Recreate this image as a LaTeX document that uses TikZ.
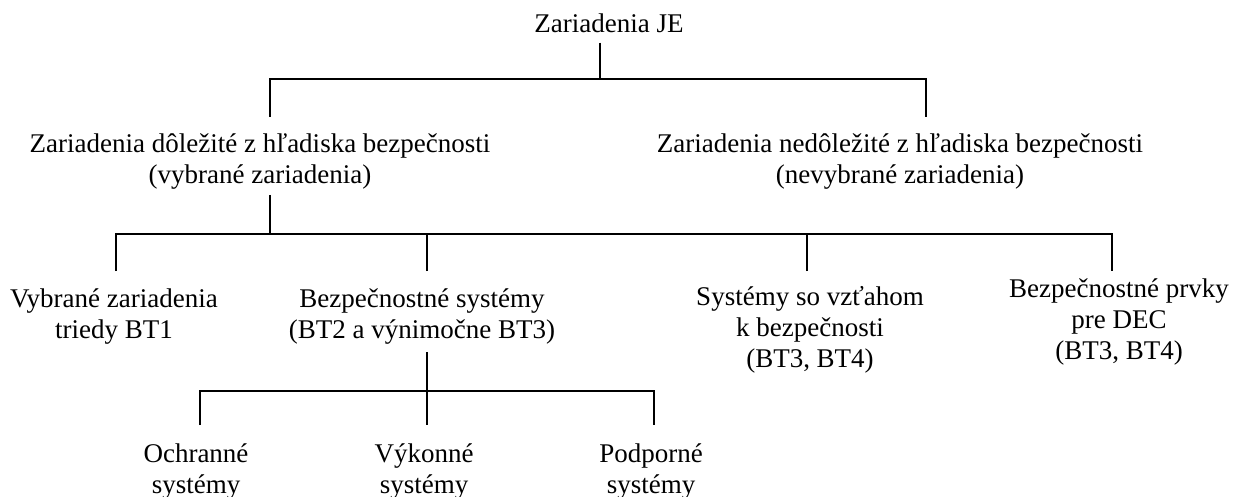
\documentclass[tikz,border=0pt]{standalone}
\usepackage{fontspec}
\setmainfont{Liberation Serif}
\newcommand\fstrut{\rule{0pt}{20pt}}
\begin{document}
\begin{tikzpicture}[x=1pt,y=-1pt,
  lbl/.style={anchor=north,inner sep=0pt,align=center,font=\fontsize{27}{31}\selectfont},
  conn/.style={line width=2pt}]
\useasboundingbox (0,0) rectangle (1242,497);
\node[lbl] (root) at (609,12) {\fstrut Zariadenia JE};
\node[lbl] (imp) at (260,132) {\fstrut Zariadenia dôležité z hľadiska bezpečnosti\\(vybrané zariadenia)};
\node[lbl] (nimp) at (900,132) {\fstrut Zariadenia nedôležité z hľadiska bezpečnosti\\(nevybrané zariadenia)};
\node[lbl] (bt1) at (114,287) {\fstrut Vybrané zariadenia\\triedy BT1};
\node[lbl] (bs) at (422,287) {\fstrut Bezpečnostné systémy\\(BT2 a výnimočne BT3)};
\node[lbl] (sv) at (810,285) {\fstrut Systémy so vzťahom\\k bezpečnosti\\(BT3, BT4)};
\node[lbl] (bp) at (1119,277) {\fstrut Bezpečnostné prvky\\pre DEC\\(BT3, BT4)};
\node[lbl] (och) at (196,442) {\fstrut Ochranné\\systémy};
\node[lbl] (vyk) at (424,442) {\fstrut Výkonné\\systémy};
\node[lbl] (pod) at (651,442) {\fstrut Podporné\\systémy};
% level 1
\coordinate (h1) at (600,79);
\coordinate (h1l) at (270,79);
\coordinate (h1r) at (926,79);
\draw[conn] ([yshift=-10pt]root.south -| h1) -- (h1);
\draw[conn] ([yshift=15pt]imp.north -| h1l) -- (h1l) -- (h1r) -- ([yshift=15pt]nimp.north -| h1r);
% level 2
\coordinate (h2) at (270,234);
\coordinate (h2a) at (116,234);
\coordinate (h2b) at (427,234);
\coordinate (h2c) at (807,234);
\coordinate (h2d) at (1112,234);
\draw[conn] ([yshift=-63pt]imp.north -| h2) -- (h2);
\draw[conn] ([yshift=16pt]bt1.north -| h2a) -- (h2a) -- (h2d) -- ([yshift=6pt]bp.north -| h2d);
\draw[conn] ([yshift=16pt]bs.north -| h2b) -- (h2b);
\draw[conn] ([yshift=14pt]sv.north -| h2c) -- (h2c);
% level 3
\coordinate (h3) at (427,391);
\coordinate (h3a) at (200,391);
\coordinate (h3c) at (654,391);
\draw[conn] ([yshift=-65pt]bs.north -| h3) -- ([yshift=17pt]vyk.north -| h3);
\draw[conn] ([yshift=17pt]och.north -| h3a) -- (h3a) -- (h3c) -- ([yshift=17pt]pod.north -| h3c);
\end{tikzpicture}
\end{document}
